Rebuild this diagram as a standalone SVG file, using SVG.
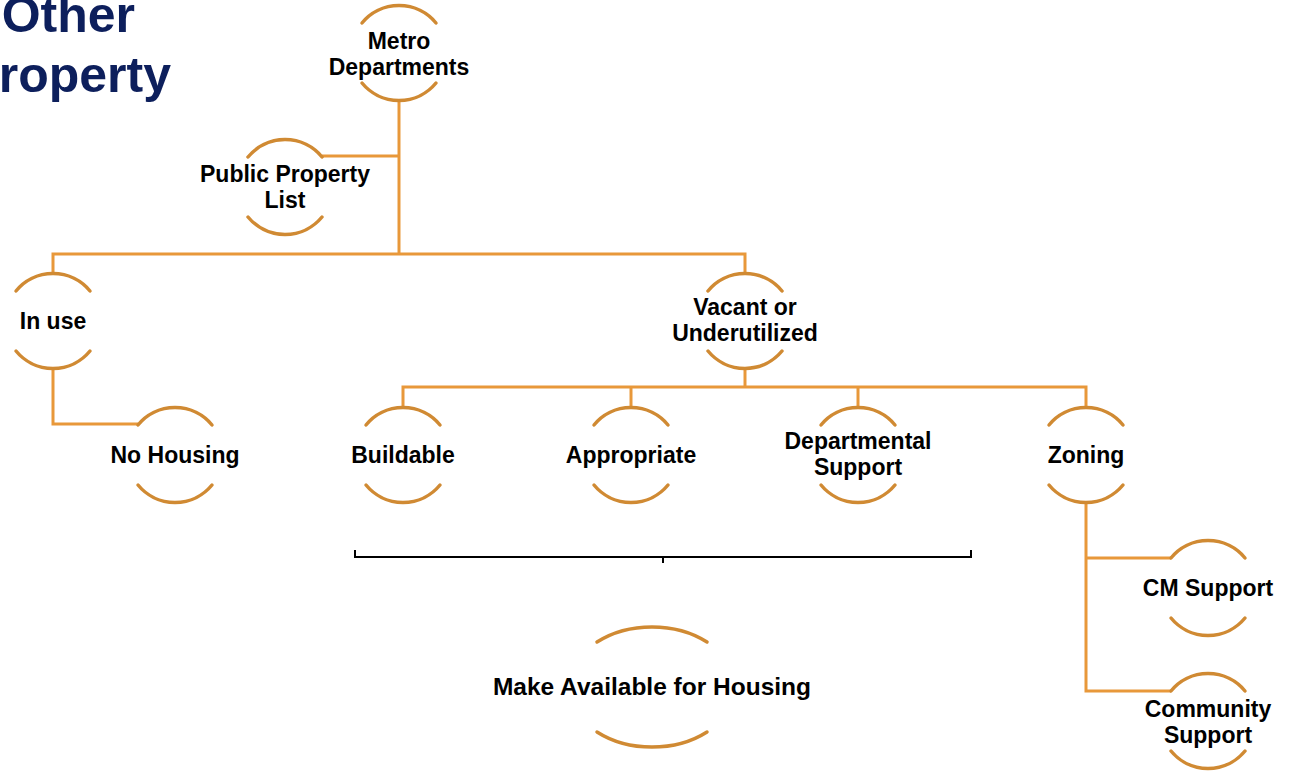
<svg xmlns="http://www.w3.org/2000/svg" xmlns:xlink="http://www.w3.org/1999/xlink" width="1299" height="772" viewBox="0 0 1299 772">
<style>
.arc{fill:none;stroke:#D08A33;stroke-width:3.5;stroke-linecap:round}
.con{fill:none;stroke:#E8983A;stroke-width:3}
.t{font-family:"Liberation Sans",Arial,sans-serif;font-weight:bold;font-size:23px;fill:#000;text-anchor:middle}
.title{font-family:"Liberation Sans",Arial,sans-serif;font-weight:bold;font-size:50px;fill:#0D1F5C;text-anchor:end}
</style>
<defs>
<g id="ring">
<path class="arc" d="M-37,-30 A48,48 0 0 1 37,-30"/>
<path class="arc" d="M-37,30 A48,48 0 0 0 37,30"/>
</g>
</defs>
<rect width="1299" height="772" fill="#fff"/>
<g id="title">
<text class="title" x="135" y="32">Other</text>
<text class="title" x="171" y="92">Property</text>
</g>
<g id="connectors">
<path class="con" d="M399,101 V254"/>
<path class="con" d="M322,156 H399"/>
<path class="con" d="M53,273 V254 H745 V273"/>
<path class="con" d="M53,368 V424 H138"/>
<path class="con" d="M745,368 V387"/>
<path class="con" d="M403,407 V387 H1086 V407"/>
<path class="con" d="M631,387 V407"/>
<path class="con" d="M858,387 V407"/>
<path class="con" d="M1086,503 V691 H1171"/>
<path class="con" d="M1086,558 H1171"/>
</g>
<g id="bracket">
<path d="M355,550 V557 H971 V550 M663,557 V563" fill="none" stroke="#000" stroke-width="2"/>
</g>
<g id="metro"><use xlink:href="#ring" x="399" y="53"/><text class="t" x="399" y="49">Metro</text><text class="t" x="399" y="75">Departments</text></g>
<g id="public"><use xlink:href="#ring" x="285" y="187"/><text class="t" x="285" y="182">Public Property</text><text class="t" x="285" y="208">List</text></g>
<g id="inuse"><use xlink:href="#ring" x="53" y="321"/><text class="t" x="53" y="329">In use</text></g>
<g id="nohousing"><use xlink:href="#ring" x="175" y="455"/><text class="t" x="175" y="463">No Housing</text></g>
<g id="vacant"><use xlink:href="#ring" x="745" y="321"/><text class="t" x="745" y="315">Vacant or</text><text class="t" x="745" y="341">Underutilized</text></g>
<g id="buildable"><use xlink:href="#ring" x="403" y="455"/><text class="t" x="403" y="463">Buildable</text></g>
<g id="appropriate"><use xlink:href="#ring" x="631" y="455"/><text class="t" x="631" y="463">Appropriate</text></g>
<g id="departmental"><use xlink:href="#ring" x="858" y="455"/><text class="t" x="858" y="449">Departmental</text><text class="t" x="858" y="475">Support</text></g>
<g id="zoning"><use xlink:href="#ring" x="1086" y="455"/><text class="t" x="1086" y="463">Zoning</text></g>
<g id="cmsupport"><use xlink:href="#ring" x="1208" y="588"/><text class="t" x="1208" y="596">CM Support</text></g>
<g id="community"><use xlink:href="#ring" x="1208" y="721"/><text class="t" x="1208" y="717">Community</text><text class="t" x="1208" y="743">Support</text></g>
<g id="makeavailable">
<path class="arc" d="M597,642 A83,60 0 0 1 707,642"/>
<path class="arc" d="M597,732 A83,60 0 0 0 707,732"/>
<text class="t" x="652" y="695" style="font-size:24.5px">Make Available for Housing</text>
</g>
</svg>
